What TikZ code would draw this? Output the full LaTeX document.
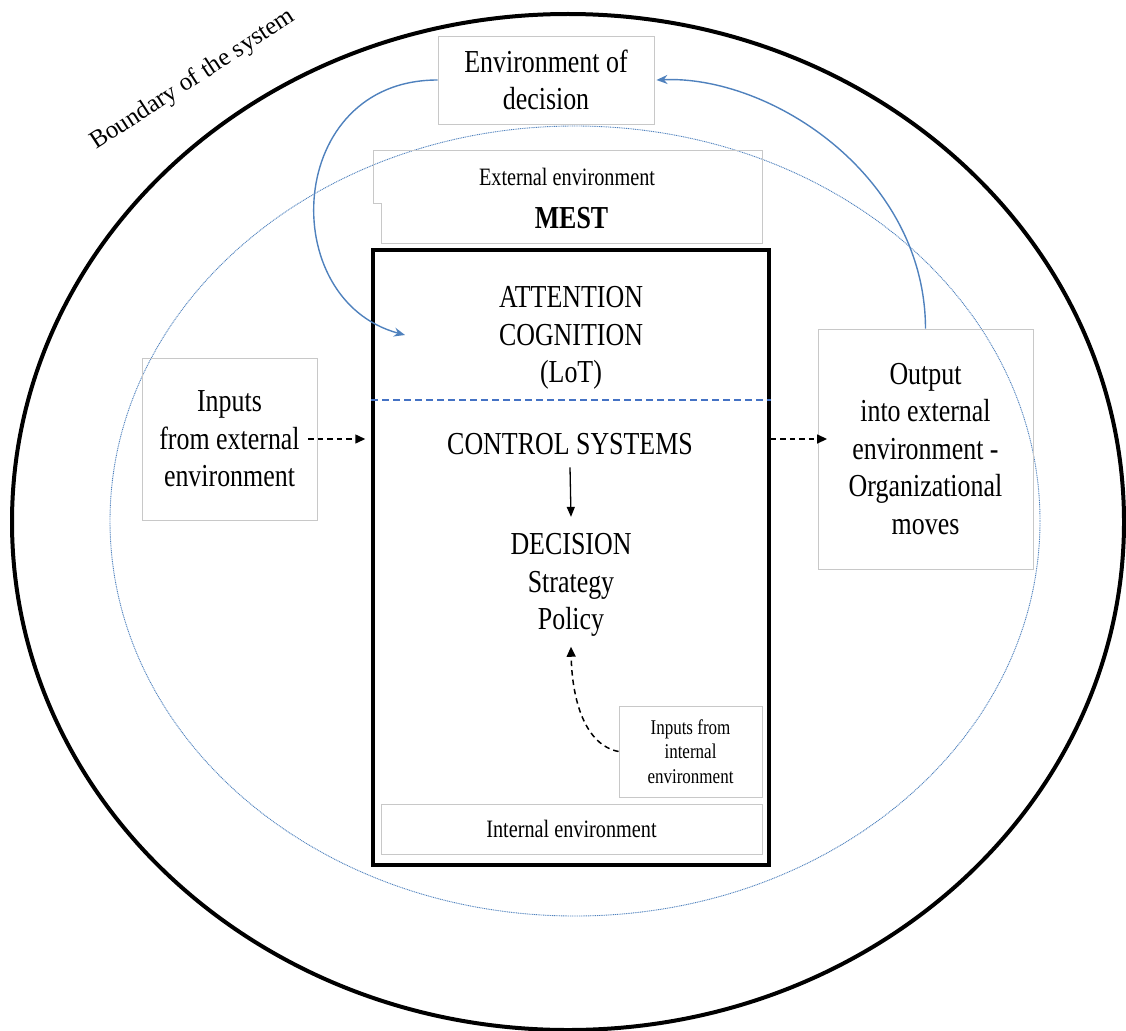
\documentclass[tikz,border=0pt]{standalone}
\usepackage{fontspec}
\setmainfont{Liberation Serif}[FakeStretch=0.81]
\newfontfamily\plainserif{Liberation Serif}
\usetikzlibrary{arrows.meta}

\definecolor{lineblue}{RGB}{79,129,189}
\definecolor{dashblue}{RGB}{68,114,196}
\definecolor{boxgray}{RGB}{200,200,200}

\begin{document}
\begin{tikzpicture}[x=1pt,y=-1pt,
  txt/.style={inner sep=0pt, align=center},
  thinbox/.style={draw=boxgray, line width=0.9pt, inner sep=0pt, align=center},
  big/.style={font=\fontsize{32}{37.5}\selectfont},
  mid/.style={font=\fontsize{25}{30}\selectfont},
  small/.style={font=\fontsize{21}{24.5}\selectfont},
  bluearrow/.style={draw=lineblue, line width=1.4pt, -{Stealth[length=11pt,width=9pt]}},
  dasharrow/.style={line width=1.5pt, dash pattern=on 5.5pt off 4pt, -{Triangle[length=10pt,width=9pt]}},
  solidarrow/.style={line width=1.3pt, -{Triangle[length=10pt,width=8pt]}}]

\useasboundingbox (0,0) rectangle (1126,1030);

% system boundary and the dotted environment ellipse
\draw[line width=4pt] (568,522) ellipse [x radius=556pt, y radius=508pt];
\draw[lineblue, line width=0.9pt, dash pattern=on 1pt off 0.8pt] (575,521) ellipse [x radius=465pt, y radius=395pt];

\node[txt, font=\plainserif\fontsize{25}{30}\selectfont, rotate=33] (bound) at (193,80) {Boundary of the system};

% environment of decision
\node[thinbox, big, minimum width=216pt, minimum height=88pt] (envdec) at (546,80) {Environment of\\decision};

% external environment (notched box)
\draw[boxgray, line width=0.9pt] (373,150) -- (762,150) -- (762,243) -- (381,243) -- (381,203) -- (373,203) -- cycle;
\node[txt, mid] (extenv) at (567,176.5) {External environment};
\node[txt, font=\bfseries\fontsize{32}{37}\selectfont] (mest) at (571.5,218) {MEST};

% organisation core
\node[draw, line width=3.5pt, minimum width=396pt, minimum height=615pt, inner sep=0pt] (core) at (571,557.5) {};
\coordinate (split) at (571,400);
\draw[dashblue, line width=1.8pt, dash pattern=on 7pt off 4pt] (core.west |- split) -- (core.east |- split);

\node[txt, big] (att) at (571,338) {ATTENTION\\COGNITION\\(LoT)};
\node[txt, big] (ctrl) at (570,444) {CONTROL SYSTEMS};
\node[txt, big] (dec) at (571,585) {DECISION\\Strategy\\Policy};
\draw[solidarrow] ([yshift=-12.4pt]ctrl.south) -- ([yshift=16.4pt]dec.north);

% internal inputs and environment
\node[thinbox, small, minimum width=143pt, minimum height=91pt] (inint) at (690.5,751.5) {Inputs from\\internal\\environment};
\node[thinbox, mid, minimum width=381pt, minimum height=50pt] (intenv) at (571.5,829) {Internal environment};
\draw[dasharrow] (inint.west) .. controls (585,745) and (572,700) .. ([yshift=-10pt]dec.south);

% external inputs and outputs
\node[thinbox, big, minimum width=175pt, minimum height=162pt] (inext) at (229.5,439) {Inputs\\from external\\environment};
\node[thinbox, big, minimum width=215pt, minimum height=240pt] (out) at (925.5,449) {Output\\into external\\environment -\\Organizational\\moves};

\coordinate (inhit) at (inext.east -| core.west);
\draw[dasharrow] ([xshift=-9pt]inext.east) -- ([xshift=-6pt]inhit);
\coordinate (outsrc) at (core.east |- inext.east);
\coordinate (outhit) at (outsrc -| out.west);
\draw[dasharrow] (outsrc) -- ([xshift=9.5pt]outhit);

% feedback loop through the environment of decision
\coordinate (attin) at (405,335);
\draw[bluearrow] (envdec.west) .. controls (285,80) and (275,300) .. (attin);
\draw[bluearrow] (out.north) .. controls (925,175) and (770,75) .. ([xshift=2pt]envdec.east);

\end{tikzpicture}
\end{document}
